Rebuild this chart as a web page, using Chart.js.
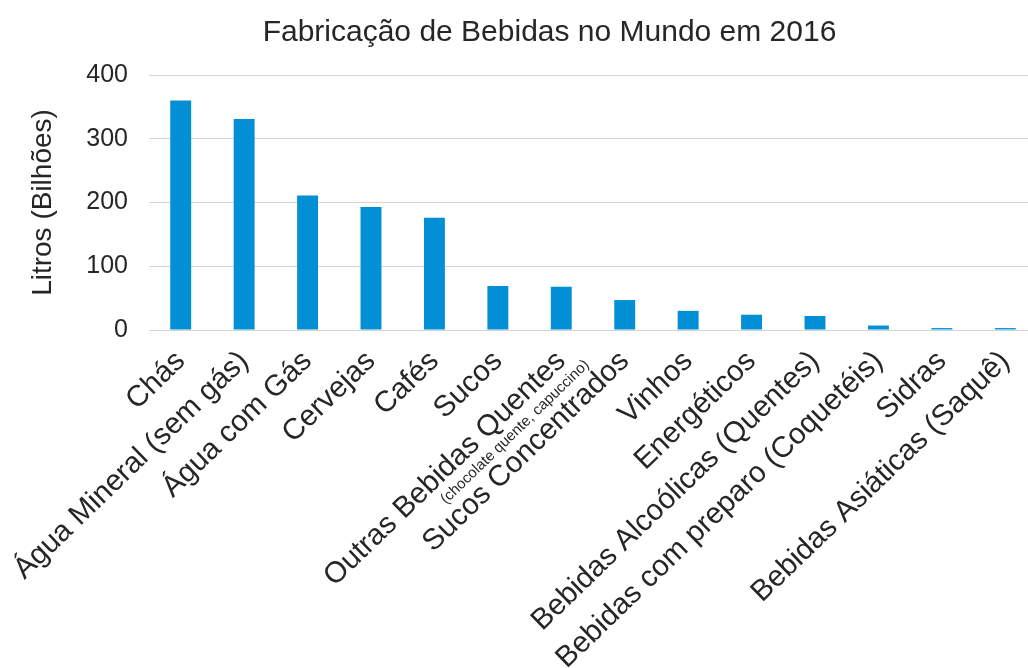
<!DOCTYPE html>
<html lang="pt-BR">
<head>
<meta charset="utf-8">
<title>Fabricação de Bebidas no Mundo em 2016</title>
<script src="https://cdn.jsdelivr.net/npm/chart.js@4/dist/chart.umd.min.js"></script>
<style>
    html, body { margin: 0; padding: 0; background: #fff; overflow: hidden; }
    #wrap { width: 1040px; height: 668px; }
</style>
</head>
<body>
<div id="wrap"><canvas id="bebidasChart"></canvas></div>
<script>
const categorias = [
    'Chás', 'Água Mineral (sem gás)', 'Água com Gás', 'Cervejas', 'Cafés', 'Sucos',
    'Outras Bebidas Quentes', 'Sucos Concentrados', 'Vinhos', 'Energéticos',
    'Bebidas Alcoólicas (Quentes)', 'Bebidas com preparo (Coquetéis)', 'Sidras',
    'Bebidas Asiáticas (Saquê)'
];
const litros = [360, 331, 211, 193, 176, 69, 68, 47, 30, 24, 22, 7, 3, 3];
const escalaMax = 400;
const escalaPasso = 100;

// subtítulo pequeno sob "Outras Bebidas Quentes"
const notaIndice = 6;
const notaTexto = '(chocolate quente, capuccino)';

const fonte = "'Liberation Sans', Arial, sans-serif";
const corTexto = '#262626';
const rotacao = 44;

const notaPlugin = {
    id: 'notaRotulo',
    // o título fica um pouco à direita do centro do canvas
    afterLayout(chart) {
        if (chart.titleBlock) chart.titleBlock.left = 62;
    },
    afterDraw(chart) {
        const xs = chart.scales.x;
        const x = xs.getPixelForValue(notaIndice);
        const y = xs.top + xs.options.ticks.padding;
        const c = chart.ctx;
        c.save();
        c.translate(x, y);
        c.rotate(-rotacao * Math.PI / 180);
        c.font = '15px ' + fonte;
        c.fillStyle = corTexto;
        c.textAlign = 'right';
        c.textBaseline = 'middle';
        c.fillText(notaTexto, 0, 37);
        c.restore();
    }
};

const ctx = document.getElementById('bebidasChart').getContext('2d');
const grafico = new Chart(ctx, {
    type: 'bar',
    data: {
        labels: categorias,
        datasets: [{
            label: 'Litros (Bilhões)',
            data: litros,
            backgroundColor: '#038fd6',
            borderWidth: 0,
            categoryPercentage: 1,
            barPercentage: 0.33
        }]
    },
    plugins: [notaPlugin],
    options: {
        responsive: true,
        maintainAspectRatio: false,
        animation: false,
        layout: { padding: { left: 0, right: 3, top: 0, bottom: 0 } },
        plugins: {
            legend: { display: false },
            tooltip: { enabled: false },
            title: {
                display: true,
                text: 'Fabricação de Bebidas no Mundo em 2016',
                color: corTexto,
                font: { family: fonte, size: 30, weight: 'normal' },
                padding: { top: 15, bottom: 24 }
            }
        },
        scales: {
            x: {
                grid: { display: false },
                border: { display: false },
                ticks: {
                    color: corTexto,
                    font: { family: fonte, size: 29.5 },
                    minRotation: rotacao,
                    maxRotation: rotacao,
                    autoSkip: false,
                    padding: 6
                },
                afterFit: (scale) => { scale.height = 338; }
            },
            y: {
                min: 0,
                max: escalaMax,
                grid: { color: '#d4d4d4', lineWidth: 1, drawTicks: false },
                border: { display: false },
                ticks: {
                    stepSize: escalaPasso,
                    color: corTexto,
                    font: { family: fonte, size: 25 },
                    padding: 21
                },
                title: {
                    display: true,
                    text: 'Litros (Bilhões)',
                    color: corTexto,
                    font: { family: fonte, size: 28 },
                    padding: { top: 26, bottom: 0 }
                },
                afterFit: (scale) => { scale.width = 149; }
            }
        }
    }
});
</script>
</body>
</html>
